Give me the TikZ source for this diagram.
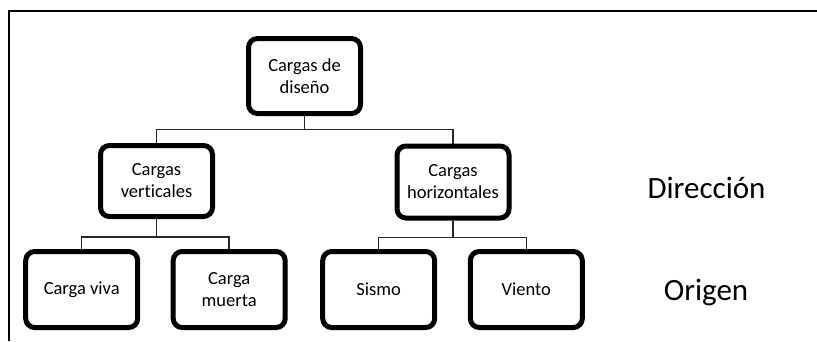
\documentclass[tikz,border=0pt]{standalone}
\usepackage{fontspec}
\setmainfont{Carlito}[Ligatures=NoCommon]
\begin{document}
\begin{tikzpicture}[x=1pt,y=-1pt,
  cbox/.style={draw=black, line width=5pt, rounded corners=9pt, fill=white, align=center,
    font=\fontsize{18.5}{22}\selectfont, inner sep=0pt, minimum width=112pt},
  conn/.style={draw=black!85, line width=1.5pt},
  lbl/.style={font=\fontsize{31}{36}\selectfont, anchor=base},
  frame/.style={draw=black, line width=2pt}]
\useasboundingbox (0,0) rectangle (817,341);
\coordinate (f1) at (9,341);
\coordinate (f2) at (9,10.5);
\coordinate (f3) at (817,10.5);
\draw[frame] (f1) -- (f2) -- (f3);
\node[cbox, minimum height=75pt] (top) at (304.5,76) {Cargas de\\diseño};
\node[cbox, minimum height=71pt] (vert) at (156.5,181) {Cargas\\verticales};
\node[cbox, minimum height=72pt] (hor) at (453,182) {Cargas\\horizontales};
\node[cbox, minimum height=76pt] (viva) at (81.7,289.5) {Carga viva};
\node[cbox, minimum height=76pt] (muerta) at (229.2,289.5) {Carga\\muerta};
\node[cbox, minimum height=76pt] (sismo) at (378.7,289.5) {Sismo};
\node[cbox, minimum height=76pt] (viento) at (526.3,289.5) {Viento};
\draw[conn] (top.south) -- ++(0,13.3) -| (vert.north);
\draw[conn] (top.south) -- ++(0,13.3) -| (hor.north);
\draw[conn] (vert.south) -- ++(0,18) -| (viva.north);
\draw[conn] (vert.south) -- ++(0,18) -| (muerta.north);
\draw[conn] (hor.south) -- ++(0,17) -| (sismo.north);
\draw[conn] (hor.south) -- ++(0,17) -| (viento.north);
\node[lbl] (dir) at (706.5,198.3) {Dirección};
\node[lbl] (ori) at (706,300) {Origen};
\end{tikzpicture}
\end{document}
